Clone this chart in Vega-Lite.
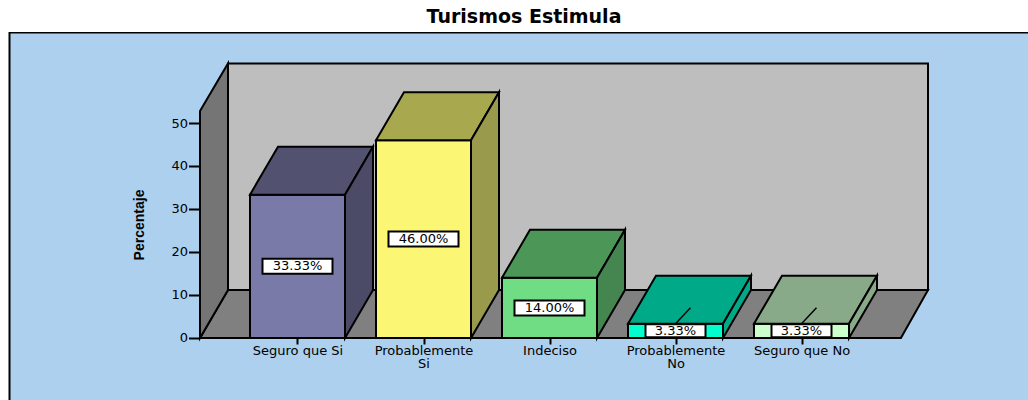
{
"$schema":"https://vega.github.io/schema/vega-lite/v6.json",
"width":1028,"height":368,"autosize":"none","padding":{"left":0,"top":32,"right":0,"bottom":0},
"background":"white",
"config":{"view":{"stroke":null}},
"title":{"text":"Turismos Estimula","font":"DejaVu Sans","fontSize":19,"fontWeight":"bold","color":"black","anchor":"middle","frame":"group","dx":10,"offset":5},
"datasets":{
"bars":[
{"idx":0,"category":"Seguro que Si","value":33.33,"label":"33.33%"},
{"idx":1,"category":"Probablemente Si","value":46.0,"label":"46.00%"},
{"idx":2,"category":"Indeciso","value":14.0,"label":"14.00%"},
{"idx":3,"category":"Probablemente No","value":3.33,"label":"3.33%"},
{"idx":4,"category":"Seguro que No","value":3.33,"label":"3.33%"}],
"panel":[{"x":-2.2857,"x2":7,"y":71.05,"y2":-30}],
"backwall":[{"x":-0.5516,"x2":5.004,"y":63.84,"y2":11.16}],
"floor":[{"x":-0.7738,"x2":4.789,"y":0},{"x":-0.5516,"x2":5.004,"y":11.16}],
"sidewall":[{"x":-0.7738,"y":0,"y2":52.8},{"x":-0.5516,"y":11.16,"y2":63.84}]
},
"encoding":{
"x":{"field":"x","type":"quantitative","title":null,
 "scale":{"domain":[-2.3611,5.7976],"nice":false,"zero":false},
 "axis":{"orient":"bottom","offset":-62,"values":[0,1,2,3,4],"domain":false,"grid":false,"zindex":1,
  "labelExpr":"[['Seguro que Si'],['Probablemente','Si'],['Indeciso'],['Probablemente','No'],['Seguro que No']][datum.value]",
  "labelFont":"DejaVu Sans","labelFontSize":13,"labelColor":"black","labelPadding":0,"labelLineHeight":13,"labelOverlap":false,"labelFlush":false,"labelAngle":0,
  "tickColor":"black","tickWidth":2,"tickSize":6}},
"y":{"field":"y","type":"quantitative",
 "scale":{"domain":[-14.419,71.163],"nice":false,"zero":false},
 "axis":{"orient":"left","offset":-199.5,"values":[0,10,20,30,40,50],"domain":false,"grid":false,"zindex":1,
  "labelFont":"DejaVu Sans","labelFontSize":13,"labelColor":"black","labelPadding":1,"labelOverlap":false,"labelFlush":false,
  "tickColor":"black","tickWidth":2,"tickSize":11,
  "title":"Percentaje","titleFont":"Liberation Sans","titleFontSize":14,"titleFontWeight":"bold","titleColor":"black","titleX":-53,"titleY":192.5,"titleAngle":-90}}
},
"layer":[
{"data":{"name":"panel"},"mark":{"type":"rect","fill":"#add0ee","stroke":"black","strokeWidth":2,"clip":true},"encoding":{"x2":{"field":"x2"},"y2":{"field":"y2"}}},
{"data":{"name":"backwall"},"mark":{"type":"rect","fill":"#bebebe","stroke":"black","strokeWidth":2},"encoding":{"x2":{"field":"x2"},"y2":{"field":"y2"}}},
{"data":{"name":"floor"},"mark":{"type":"area","orient":"horizontal","fill":"#808080","stroke":"black","strokeWidth":2},"encoding":{"x2":{"field":"x2"}}},
{"data":{"name":"sidewall"},"mark":{"type":"area","orient":"vertical","fill":"#757575","stroke":"black","strokeWidth":2},"encoding":{"y2":{"field":"y2"}}},
{"data":{"name":"bars"},
 "transform":[{"calculate":"datum.idx-0.377","as":"x"},{"calculate":"datum.idx+0.377","as":"x2"},{"calculate":"datum.value","as":"y"},{"calculate":"0","as":"y2"}],
 "mark":{"type":"rect","stroke":"black","strokeWidth":2},
 "encoding":{"x2":{"field":"x2"},"y2":{"field":"y2"},
  "color":{"field":"category","type":"nominal","legend":null,"scale":{"domain":["Seguro que Si","Probablemente Si","Indeciso","Probablemente No","Seguro que No"],"range":["#7a7aa8","#fbf774","#70dc84","#00ffcc","#ccffcc"]}}}},
{"data":{"name":"bars"},
 "transform":[{"calculate":"[0,1]","as":"d"},{"flatten":["d"]},{"calculate":"datum.idx-0.377+datum.d*0.2222","as":"x"},{"calculate":"datum.idx+0.377+datum.d*0.2222","as":"x2"},{"calculate":"datum.value+datum.d*11.16","as":"y"}],
 "mark":{"type":"area","orient":"horizontal","stroke":"black","strokeWidth":2},
 "encoding":{"x2":{"field":"x2"},
  "color":{"field":"category","type":"nominal","legend":null,"scale":{"domain":["Seguro que Si","Probablemente Si","Indeciso","Probablemente No","Seguro que No"],"range":["#525270","#a8a84e","#4c9658","#00aa88","#88aa88"]}}}},
{"data":{"name":"bars"},
 "transform":[{"calculate":"[0,1]","as":"d"},{"flatten":["d"]},{"calculate":"datum.idx+0.377+datum.d*0.2222","as":"x"},{"calculate":"datum.value+datum.d*11.16","as":"y"},{"calculate":"datum.d*11.16","as":"y2"}],
 "mark":{"type":"area","orient":"vertical","stroke":"black","strokeWidth":2},
 "encoding":{"y2":{"field":"y2"},
  "color":{"field":"category","type":"nominal","legend":null,"scale":{"domain":["Seguro que Si","Probablemente Si","Indeciso","Probablemente No","Seguro que No"],"range":["#4b4b68","#9a9a4c","#448550","#00aa88","#88aa88"]}}}},
{"data":{"name":"bars"},
 "transform":[{"filter":"datum.value<5"},{"calculate":"datum.idx","as":"x"},{"calculate":"datum.idx+0.119","as":"x2"},{"calculate":"datum.value","as":"y"},{"calculate":"datum.value+3.72","as":"y2"}],
 "mark":{"type":"rule","color":"black","strokeWidth":1.5},
 "encoding":{"x2":{"field":"x2"},"y2":{"field":"y2"}}},
{"data":{"name":"bars"},
 "transform":[{"calculate":"datum.value<5?30/126:35/126","as":"hw"},{"calculate":"datum.value<5?1.51:1.744","as":"hh"},{"calculate":"datum.idx-datum.hw","as":"x"},{"calculate":"datum.idx+datum.hw","as":"x2"},{"calculate":"datum.value/2+datum.hh","as":"y"},{"calculate":"datum.value/2-datum.hh","as":"y2"}],
 "mark":{"type":"rect","fill":"white","stroke":"black","strokeWidth":2},
 "encoding":{"x2":{"field":"x2"},"y2":{"field":"y2"}}},
{"data":{"name":"bars"},
 "transform":[{"calculate":"datum.idx","as":"x"},{"calculate":"datum.value/2","as":"y"}],
 "mark":{"type":"text","font":"DejaVu Sans","fontSize":13,"color":"black","align":"center","baseline":"middle"},
 "encoding":{"text":{"field":"label","type":"nominal"}}}
],
"resolve":{"scale":{"color":"independent"}}
}
